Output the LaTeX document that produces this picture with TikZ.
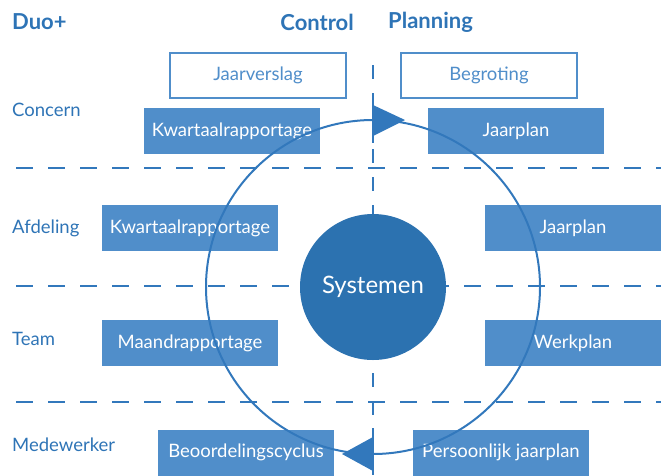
\documentclass[tikz,border=0pt]{standalone}
\usepackage{fontspec}
\setmainfont{Lato}
\definecolor{boxblue}{RGB}{80,142,202}
\definecolor{sysblue}{RGB}{44,114,176}
\definecolor{lineblue}{RGB}{50,120,188}
\definecolor{txtblue}{RGB}{46,116,182}
\tikzset{
  fbox/.style={fill=boxblue, text=white, minimum width=176pt, minimum height=46pt, inner sep=0pt, font=\fontsize{18.5}{22}\selectfont},
  obox/.style={draw=boxblue, line width=1.3pt, fill=white, text=boxblue, minimum width=176pt, minimum height=45pt, inner sep=0pt, font=\fontsize{18.5}{22}\selectfont},
  lvl/.style={text=txtblue, anchor=west, inner sep=0pt, font=\fontsize{18.5}{22}\selectfont},
  head/.style={text=txtblue, inner sep=0pt, font=\fontsize{22}{26}\selectfont\bfseries},
  sep/.style={draw=lineblue, line width=2.6pt, dash pattern=on 17pt off 15pt},
  vsep/.style={draw=lineblue, line width=2.2pt, dash pattern=on 14pt off 14pt},
}
\begin{document}
\begin{tikzpicture}[x=1pt,y=-1pt]
\useasboundingbox (0,0) rectangle (661,475);
% headings
\node[head, anchor=west] (duo) at (12,22) {Duo+};
\node[head, anchor=east] (ctrl) at (354,22) {Control};
\node[head, anchor=west] (plan) at (388,22) {Planning};
% level labels
\node[lvl] (concern) at (12,110) {Concern};
\node[lvl] (afdeling) at (12,228) {Afdeling};
\node[lvl] (team) at (12,339) {Team};
\node[lvl] (medew) at (12,445) {Medewerker};
% separators
\coordinate (h1a) at (16,168); \coordinate (h1b) at (661,168);
\coordinate (h2a) at (16,286); \coordinate (h2b) at (661,286);
\coordinate (h3a) at (16,402); \coordinate (h3b) at (661,402);
\coordinate (vt) at (373,65); \coordinate (vb) at (373,475);
\draw[sep] (h1a) -- (h1b);
\draw[sep] (h2a) -- (h2b);
\draw[sep] (h3a) -- (h3b);
\draw[vsep] (vt) -- (vb);
\draw[draw=lineblue, line width=2.2pt] (373,97) -- (373,143);
\draw[draw=lineblue, line width=2.2pt] (373,428) -- (373,475);
% boxes
\node[obox] (jv) at (258,75.5) {Jaarverslag};
\node[obox] (beg) at (489,75.5) {Begroting};
\node[fbox] (kwc) at (232,131) {Kwartaalrapportage};
\node[fbox] (jpc) at (516,131) {Jaarplan};
\node[fbox] (kwa) at (190,228) {Kwartaalrapportage};
\node[fbox] (jpa) at (573,228) {Jaarplan};
\node[fbox] (maand) at (190,343) {Maandrapportage};
\node[fbox] (werk) at (573,343) {Werkplan};
\node[fbox] (beoord) at (246,452.5) {Beoordelingscyclus};
\node[fbox] (pers) at (501,452.5) {Persoonlijk jaarplan};
% systemen
\node[circle, fill=sysblue, text=white, minimum size=146pt, inner sep=0pt, font=\fontsize{24}{28}\selectfont] (sys) at (373,287) {Systemen};
% cycle
\draw[lineblue, line width=2pt] (373,287) circle (167);
\fill[lineblue] (373,105) -- (405,120) -- (373,136) -- cycle;
\fill[lineblue] (373,437) -- (342,454) -- (373,471) -- cycle;
\end{tikzpicture}
\end{document}
